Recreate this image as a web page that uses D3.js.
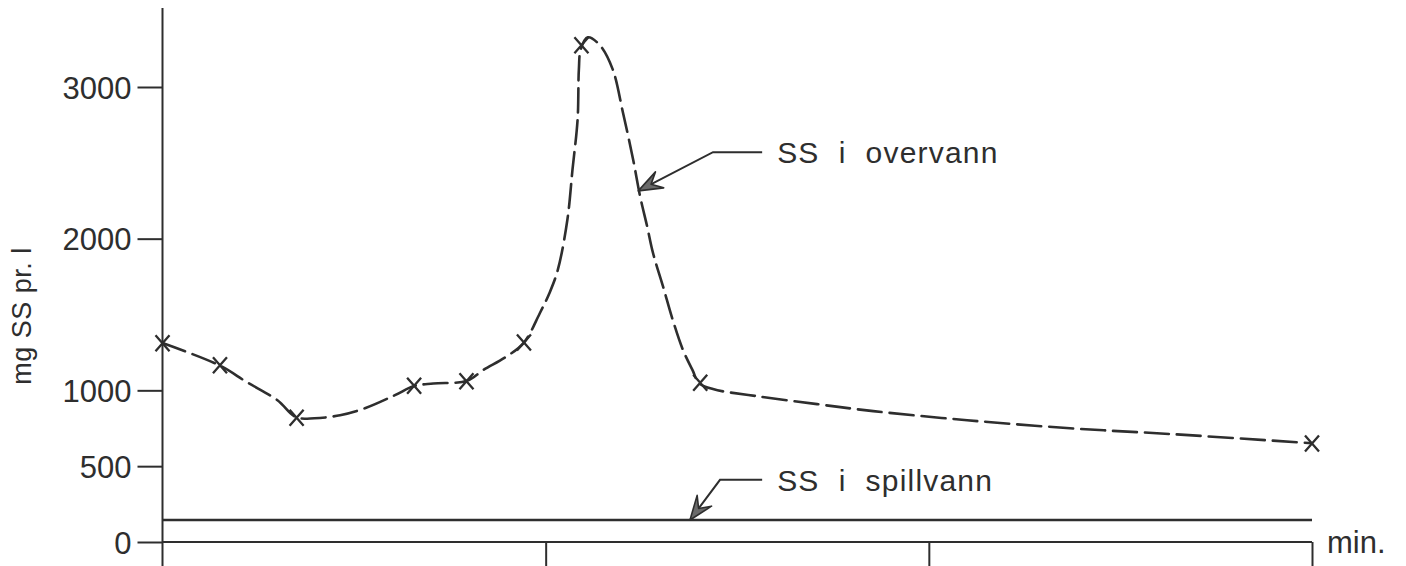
<!DOCTYPE html>
<html>
<head>
<meta charset="utf-8">
<script src="https://cdn.jsdelivr.net/npm/d3@7"></script>
<style>
  body { margin: 0; background: #fff; }
  svg text { font-family: "Liberation Sans", Arial, sans-serif; fill: #2e2e2e; white-space: pre; }
</style>
</head>
<body>
<div id="chart"></div>
<script>
// measured points (x marks), time in minutes (x ticks are unlabeled)
var markerTime  = [0, 4.5, 10.5, 19.7, 23.8, 28.3, 32.8, 42.1, 90]
var markerValue = [1310, 1165, 820, 1030, 1060, 1315, 3275, 1050, 650]

// hand drawn dashed curve "SS i overvann"
var curveTime  = [0, 4.5, 6.6, 9.0, 10.45, 11.9, 13.9, 15.85, 18.2, 19.7, 21.2, 23.85, 25.1, 26.9,
                  28.3, 29.55, 30.3, 30.95, 31.7, 32.1, 32.5, 32.6, 32.75, 33.3, 34.25, 35.25,
                  36.05, 36.85, 37.4, 37.95, 38.4, 39.2, 39.95, 40.75, 41.5, 42.0, 43.1, 46.4,
                  51.25, 55.65, 63.0, 71.05, 79.1, 90]
var curveValue = [1312, 1163, 1054, 935, 823, 816, 836, 882, 968, 1028, 1045, 1063, 1133, 1221,
                  1315, 1510, 1642, 1794, 2125, 2455, 2786, 3116, 3249, 3328, 3275, 3116,
                  2832, 2521, 2277, 2079, 1907, 1682, 1464, 1266, 1133, 1048, 1008, 963,
                  909, 863, 803, 750, 711, 651]

// "SS i spillvann" level
var spillTime  = [0, 90]
var spillValue = [145, 145]

var yTicks = [0, 500, 1000, 2000, 3000]
var xTicks = [30, 60, 90]

// annotations: [tipT, tipV, elbowT, elbowV, endT, label]
var notes = [
  [37.25, 2315, 43.1, 2570, 46.95, "SS  i  overvann"],
  [41.3, 145, 43.65, 410, 46.95, "SS  i  spillvann"]
]

var width = 1406, height = 566
var ink = "#2e2e2e"

var svg = d3.select("#chart").append("svg")
    .attr("width", width).attr("height", height)

var x = d3.scaleLinear().domain([0, 90]).range([162.5, 1312])
var y = d3.scaleLinear().domain([0, 3000]).range([542, 87])

// y axis
svg.append("line")
    .attr("x1", x(0)).attr("x2", x(0)).attr("y1", 8).attr("y2", height)
    .attr("stroke", ink).attr("stroke-width", 2)

var yAxis = svg.append("g")
    .attr("transform", "translate(" + x(0) + ",0)")
    .call(d3.axisLeft(y).tickValues(yTicks).tickSize(25).tickPadding(6).tickFormat(d3.format("d")))
yAxis.select(".domain").remove()
yAxis.selectAll(".tick line").attr("stroke", ink).attr("stroke-width", 2)
yAxis.selectAll(".tick text")
    .attr("fill", ink).attr("font-size", 31).attr("font-family", "Liberation Sans, Arial, sans-serif")
    .attr("dy", "0.36em")

// x axis
svg.append("line")
    .attr("x1", x(0)).attr("x2", x(90)).attr("y1", y(0)).attr("y2", y(0))
    .attr("stroke", ink).attr("stroke-width", 2)
var xAxis = svg.append("g")
    .attr("transform", "translate(0," + y(0) + ")")
    .call(d3.axisBottom(x).tickValues(xTicks).tickSize(height - y(0)).tickFormat(""))
xAxis.select(".domain").remove()
xAxis.selectAll(".tick line").attr("stroke", ink).attr("stroke-width", 2)

svg.append("text")
    .attr("x", x(90) + 15).attr("y", y(0) + 11)
    .attr("font-size", 31).text("min.")

svg.append("text")
    .attr("transform", "translate(31,316) rotate(-90)")
    .attr("text-anchor", "middle")
    .attr("font-size", 27).attr("letter-spacing", 0.5).text("mg SS pr. l")

// spillvann line
var spill = spillTime.map(function(t, i) { return [t, spillValue[i]] })
svg.append("path")
    .datum(spill)
    .attr("fill", "none").attr("stroke", ink).attr("stroke-width", 2.5)
    .attr("d", d3.line().x(function(d) { return x(d[0]) }).y(function(d) { return y(d[1]) }))

// overvann dashed curve
var curve = curveTime.map(function(t, i) { return [t, curveValue[i]] })
svg.append("path")
    .datum(curve)
    .attr("fill", "none").attr("stroke", ink).attr("stroke-width", 2.6)
    .attr("stroke-dasharray", "24,8").attr("stroke-linecap", "round")
    .attr("d", d3.line().curve(d3.curveCatmullRom.alpha(0.5))
        .x(function(d) { return x(d[0]) }).y(function(d) { return y(d[1]) }))

// x marks
var marks = markerTime.map(function(t, i) { return [t, markerValue[i]] })
var mk = svg.append("g").selectAll("g").data(marks).enter().append("g")
    .attr("transform", function(d) { return "translate(" + x(d[0]) + "," + y(d[1]) + ")" })
mk.append("path")
    .attr("d", "M-7,-8L7,8M7,-8L-7,8")
    .attr("stroke", ink).attr("stroke-width", 2.3).attr("fill", "none")

// annotations with arrows
notes.forEach(function(n) {
    var tx = x(n[0]), ty = y(n[1]), ex = x(n[2]), ey = y(n[3]), lx = x(n[4])
    svg.append("path")
        .attr("d", "M" + lx + "," + ey + "L" + ex + "," + ey + "L" + tx + "," + ty)
        .attr("fill", "none").attr("stroke", ink).attr("stroke-width", 2)
    var dx = ex - tx, dy = ey - ty, len = Math.sqrt(dx * dx + dy * dy)
    var ux = dx / len, uy = dy / len, px = -uy, py = ux
    var L = 24, W = 9
    var head = [
        [tx, ty],
        [tx + ux * L + px * W, ty + uy * L + py * W],
        [tx + ux * L * 0.6, ty + uy * L * 0.6],
        [tx + ux * L - px * W, ty + uy * L - py * W]
    ]
    svg.append("path")
        .attr("d", "M" + head.join("L") + "Z")
        .attr("fill", "#6a6a6a").attr("stroke", ink).attr("stroke-width", 1.6)
        .attr("stroke-linejoin", "round")
    svg.append("text")
        .attr("x", lx + 15).attr("y", ey + 11)
        .attr("font-size", 30).attr("letter-spacing", 1.2)
        .text(n[5])
})
</script>
</body>
</html>
